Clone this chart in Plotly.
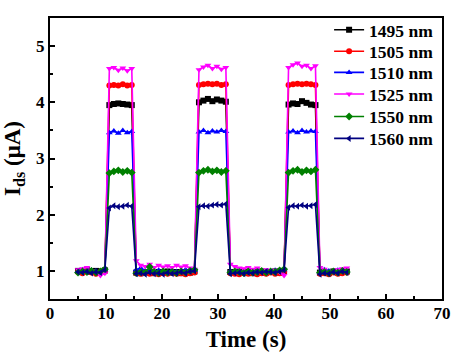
import plotly.graph_objects as go

time_s = [5.0, 5.8, 6.6, 7.4, 8.2, 9.0, 9.8, 10.6, 11.4, 12.2, 13.0, 13.8, 14.6, 15.4, 16.2, 17.0,
          17.8, 18.6, 19.4, 20.2, 21.0, 21.8, 22.6, 23.4, 24.2, 25.0, 25.8, 26.6, 27.4, 28.2, 29.0,
          29.8, 30.6, 31.4, 32.2, 33.0, 33.8, 34.6, 35.4, 36.2, 37.0, 37.8, 38.6, 39.4, 40.2, 41.0,
          41.8, 42.6, 43.4, 44.2, 45.0, 45.8, 46.6, 47.4, 48.2, 49.0, 49.8, 50.6, 51.4, 52.2, 53.0]

i_1495 = [1.00, 0.99, 1.01, 0.98, 1.00, 0.99, 1.01,
          3.95, 3.97, 3.98, 3.97, 3.96, 3.95,
          0.97, 0.96, 0.98, 0.97, 0.96, 0.98, 0.97, 0.99, 0.97, 0.98, 0.96, 0.98, 0.97, 0.99,
          4.00, 4.03, 4.06, 4.02, 4.05, 4.03, 4.01,
          0.98, 0.97, 0.99, 0.97, 0.98, 0.96, 0.98, 0.99, 0.97, 0.98, 0.99, 0.97, 1.00,
          3.96, 3.98, 3.97, 4.02, 3.99, 3.96, 3.95,
          0.97, 0.98, 0.96, 0.99, 0.97, 0.98, 0.99]

i_1505 = [0.98, 0.96, 0.99, 0.97, 0.95, 0.98, 0.99,
          4.30, 4.31, 4.30, 4.32, 4.30, 4.31,
          0.96, 0.95, 0.97, 0.95, 0.96, 0.94, 0.96, 0.95, 0.97, 0.95, 0.96, 0.94, 0.96, 0.97,
          4.31, 4.32, 4.33, 4.32, 4.33, 4.31, 4.32,
          0.96, 0.95, 0.94, 0.96, 0.95, 0.96, 0.94, 0.96, 0.95, 0.97, 0.95, 0.96, 0.98,
          4.31, 4.32, 4.33, 4.32, 4.33, 4.32, 4.31,
          0.95, 0.96, 0.94, 0.97, 0.95, 0.96, 0.97]

i_1510 = [1.00, 1.02, 0.99, 1.01, 1.00, 0.98, 1.02,
          3.46, 3.49, 3.45, 3.50, 3.46, 3.48,
          1.02, 1.05, 1.00, 1.03, 0.99, 1.01, 1.00, 0.98, 1.01, 0.99, 1.00, 1.02, 0.99, 1.01,
          3.47, 3.50, 3.46, 3.49, 3.47, 3.50, 3.48,
          1.00, 0.99, 1.01, 0.98, 1.00, 0.99, 1.01, 0.99, 1.00, 0.98, 1.01, 1.00, 1.02,
          3.47, 3.49, 3.46, 3.50, 3.47, 3.49, 3.48,
          0.98, 1.02, 1.00, 0.98, 1.01, 0.99, 1.00]

i_1525 = [1.02, 1.04, 1.06, 1.00, 0.97, 0.92, 0.96,
          4.60, 4.62, 4.57, 4.61, 4.56, 4.60,
          1.18, 1.10, 1.08, 1.12, 1.06, 1.10, 1.07, 1.09, 1.06, 1.10, 1.07, 1.09, 1.05, 1.03,
          4.58, 4.63, 4.66, 4.60, 4.64, 4.59, 4.62,
          1.12, 1.08, 1.05, 1.04, 1.06, 1.03, 1.05, 1.00, 1.02, 0.99, 1.01, 0.98, 0.92,
          4.62, 4.67, 4.70, 4.64, 4.66, 4.60, 4.65,
          1.06, 1.03, 0.96, 0.98, 1.02, 1.04, 1.05]

i_1550 = [0.97, 0.99, 0.98, 1.00, 0.97, 0.99, 1.03,
          2.74, 2.77, 2.79, 2.76, 2.78, 2.75,
          0.96, 0.98, 0.97, 1.07, 0.98, 0.96, 0.99, 0.97, 0.98, 0.96, 0.99, 0.97, 1.00, 1.02,
          2.75, 2.78, 2.80, 2.77, 2.79, 2.76, 2.78,
          0.97, 0.99, 0.98, 0.96, 0.99, 0.97, 0.98, 1.00, 0.97, 0.99, 0.98, 1.01, 1.03,
          2.75, 2.78, 2.80, 2.76, 2.79, 2.77, 2.80,
          0.97, 0.98, 0.96, 0.99, 0.97, 1.00, 0.98]

i_1560 = [0.98, 0.97, 0.99, 0.96, 0.98, 0.97, 1.02,
          2.12, 2.16, 2.14, 2.15, 2.17, 2.15,
          0.95, 0.96, 0.94, 0.97, 0.95, 0.96, 0.94, 0.97, 0.95, 0.96, 0.98, 0.96, 0.99, 1.00,
          2.14, 2.16, 2.15, 2.17, 2.18, 2.17, 2.19,
          0.95, 0.96, 0.97, 0.95, 0.97, 0.96, 0.98, 0.97, 0.99, 0.98, 0.97, 0.99, 1.01,
          2.13, 2.16, 2.15, 2.17, 2.15, 2.16, 2.18,
          0.94, 0.96, 0.95, 0.98, 0.96, 0.99, 0.97]

series_names = ["1495 nm", "1505 nm", "1510 nm", "1525 nm", "1550 nm", "1560 nm"]
series_values = [i_1495, i_1505, i_1510, i_1525, i_1550, i_1560]
colors = ["#000000", "#ff0000", "#0000ff", "#ff00ff", "#008000", "#000080"]
symbols = ["square", "circle", "triangle-up", "triangle-down", "diamond", "triangle-left"]

FONT = "Liberation Serif, Times New Roman, serif"

# one small legend per series, so the entry spacing can match the reference
legend_ids = ["legend", "legend2", "legend3", "legend4", "legend5", "legend6"]
legend_y = [0.958, 0.881, 0.806, 0.729, 0.649, 0.571]

fig = go.Figure()
for name, vals, c, s, lid in zip(series_names, series_values, colors, symbols, legend_ids):
    fig.add_trace(go.Scatter(
        x=time_s, y=vals, name=name, mode="lines+markers",
        line=dict(color=c, width=1.6),
        marker=dict(symbol=s, size=6, color=c),
        legend=lid,
    ))

axis_common = dict(
    showgrid=False, zeroline=False, showline=True, linecolor="black", linewidth=2,
    mirror=True, ticks="inside", ticklen=5, tickwidth=1.5, tickcolor="black",
    tickfont=dict(family=FONT, size=17, color="black", weight="bold"),
    minor=dict(ticks="inside", ticklen=3, tickwidth=1.5, tickcolor="black"),
    automargin=False,
)

fig.update_xaxes(
    range=[0, 70], tickvals=[0, 10, 20, 30, 40, 50, 60, 70], minor_dtick=5,
    ticklabelstandoff=-2,
    title=dict(text="Time (s)", font=dict(family=FONT, size=23, color="black", weight="bold"), standoff=8),
    **axis_common,
)
fig.update_yaxes(
    range=[0.5, 5.5], tickvals=[1, 2, 3, 4, 5], minor_dtick=0.5,
    title=dict(text="I<sub>ds</sub> (μA)", font=dict(family=FONT, size=23, color="black", weight="bold"), standoff=10),
    **axis_common,
)

legend_layout = {}
for lid, ly in zip(legend_ids, legend_y):
    legend_layout[lid] = dict(
        x=0.712, y=ly, xanchor="left", yanchor="middle",
        bgcolor="rgba(0,0,0,0)", borderwidth=0,
        font=dict(family=FONT, size=17.5, color="black", weight="bold"),
        itemwidth=30,
    )

fig.update_layout(
    width=454, height=355,
    margin=dict(l=50, r=12, t=14, b=56),
    plot_bgcolor="white", paper_bgcolor="white",
    showlegend=True,
    **legend_layout,
)

# remove the page's default body margin so the figure fills the window exactly
fig.write_html(
    "out.html",
    config={"displayModeBar": False},
    post_script="document.body.style.margin='0';document.body.style.overflow='hidden';",
)
